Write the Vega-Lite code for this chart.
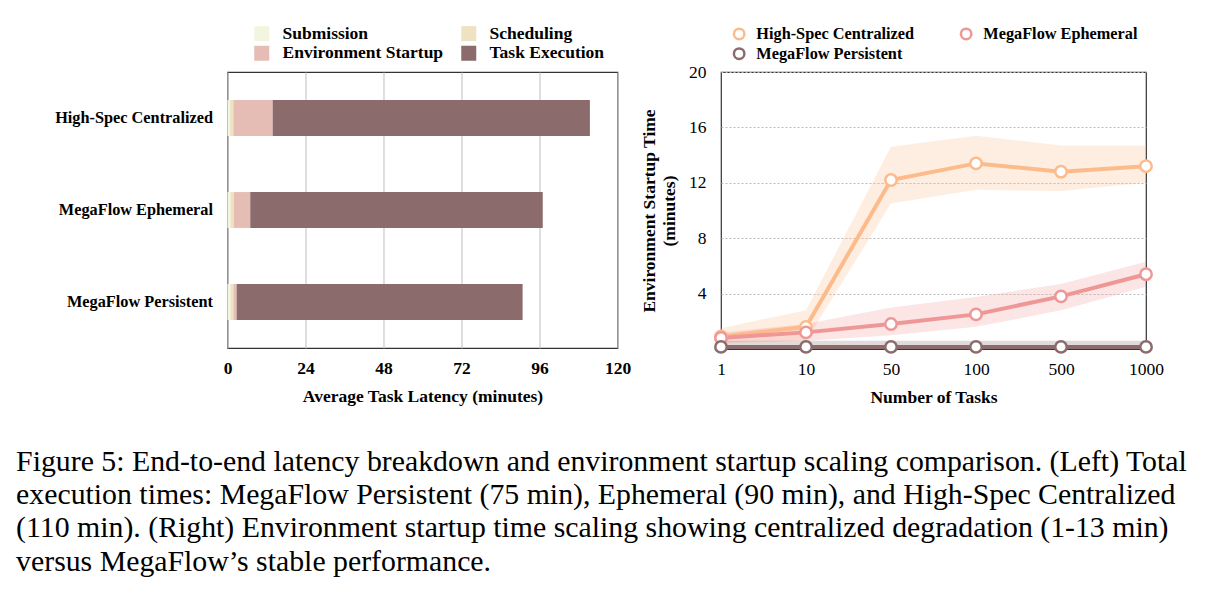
{
  "$schema": "https://vega.github.io/schema/vega-lite/v6.json",
  "autosize": {"type": "none"},
  "padding": {"left": 227.5, "top": 72, "right": 991.5, "bottom": 522},
  "background": "white",
  "bounds": "flush",
  "spacing": 103.5,
  "resolve": {
    "scale": {"color": "independent"},
    "legend": {"color": "independent"}
  },
  "title": {
    "text": [
      "Figure 5: End-to-end latency breakdown and environment startup scaling comparison. (Left) Total",
      "execution times: MegaFlow Persistent (75 min), Ephemeral (90 min), and High-Spec Centralized",
      "(110 min). (Right) Environment startup time scaling showing centralized degradation (1-13 min)",
      "versus MegaFlow’s stable performance."
    ],
    "orient": "bottom",
    "anchor": "start",
    "frame": "bounds",
    "font": "Liberation Serif",
    "fontSize": 29.8,
    "fontWeight": "normal",
    "color": "#000000",
    "lineHeight": 33.4,
    "offset": 40,
    "dx": -38
  },
  "config": {
    "view": {"stroke": "#333333", "strokeWidth": 1.2},
    "font": "Liberation Serif",
    "axis": {
      "domain": false,
      "ticks": false,
      "labelFlush": false,
      "labelFont": "Liberation Serif",
      "titleFont": "Liberation Serif",
      "labelColor": "#000000",
      "titleColor": "#000000",
      "titleFontWeight": "bold",
      "titleFontSize": 17.5
    },
    "legend": {
      "labelFont": "Liberation Serif",
      "labelFontWeight": "bold",
      "labelFontSize": 17.5,
      "labelColor": "#000000",
      "labelLimit": 400
    }
  },
  "hconcat": [
    {
      "width": 390,
      "height": 276,
      "data": {
        "values": [
          {"system": "High-Spec Centralized", "stage": "Submission", "step": 1, "minutes": 0.8},
          {"system": "High-Spec Centralized", "stage": "Scheduling", "step": 2, "minutes": 1.0},
          {"system": "High-Spec Centralized", "stage": "Environment Startup", "step": 3, "minutes": 12.1},
          {"system": "High-Spec Centralized", "stage": "Task Execution", "step": 4, "minutes": 97.6},
          {"system": "MegaFlow Ephemeral", "stage": "Submission", "step": 1, "minutes": 0.9},
          {"system": "MegaFlow Ephemeral", "stage": "Scheduling", "step": 2, "minutes": 1.0},
          {"system": "MegaFlow Ephemeral", "stage": "Environment Startup", "step": 3, "minutes": 5.1},
          {"system": "MegaFlow Ephemeral", "stage": "Task Execution", "step": 4, "minutes": 90.0},
          {"system": "MegaFlow Persistent", "stage": "Submission", "step": 1, "minutes": 0.9},
          {"system": "MegaFlow Persistent", "stage": "Scheduling", "step": 2, "minutes": 0.9},
          {"system": "MegaFlow Persistent", "stage": "Environment Startup", "step": 3, "minutes": 1.0},
          {"system": "MegaFlow Persistent", "stage": "Task Execution", "step": 4, "minutes": 88.0}
        ]
      },
      "mark": {"type": "bar"},
      "encoding": {
        "y": {
          "field": "system",
          "type": "nominal",
          "sort": ["High-Spec Centralized", "MegaFlow Ephemeral", "MegaFlow Persistent"],
          "scale": {"paddingInner": 0.61, "paddingOuter": 0.305},
          "axis": {
            "title": null,
            "labelFontWeight": "bold",
            "labelFontSize": 16.3,
            "labelPadding": 15,
            "grid": false
          }
        },
        "x": {
          "field": "minutes",
          "type": "quantitative",
          "stack": "zero",
          "scale": {"domain": [0, 120], "nice": false},
          "axis": {
            "title": "Average Task Latency (minutes)",
            "values": [0, 24, 48, 72, 96, 120],
            "labelFontWeight": "bold",
            "labelFontSize": 17.5,
            "labelPadding": 11,
            "titlePadding": 11,
            "grid": true,
            "gridColor": "#c4c4c4",
            "gridWidth": 1.1
          }
        },
        "order": {"field": "step", "type": "quantitative"},
        "color": {
          "field": "stage",
          "type": "nominal",
          "scale": {
            "domain": ["Submission", "Scheduling", "Environment Startup", "Task Execution"],
            "range": ["#f3f6de", "#eee2c3", "#e5bdb4", "#8b6b6b"]
          },
          "legend": {
            "title": null,
            "orient": "none",
            "direction": "horizontal",
            "legendX": 25.5,
            "legendY": -47.5,
            "columns": 2,
            "columnPadding": 16,
            "rowPadding": 1,
            "symbolType": "square",
            "symbolSize": 225,
            "symbolStrokeWidth": 0,
            "labelOffset": 12
          }
        }
      }
    },
    {
      "width": 425,
      "height": 277,
      "resolve": {"legend": {"color": "independent"}},
      "data": {
        "values": [
          {"tasks": "1", "series": "High-Spec Centralized", "value": 0.9, "lo": 0.4, "hi": 1.5},
          {"tasks": "10", "series": "High-Spec Centralized", "value": 1.6, "lo": 0.6, "hi": 2.8},
          {"tasks": "50", "series": "High-Spec Centralized", "value": 12.2, "lo": 10.5, "hi": 14.6},
          {"tasks": "100", "series": "High-Spec Centralized", "value": 13.4, "lo": 11.5, "hi": 15.4},
          {"tasks": "500", "series": "High-Spec Centralized", "value": 12.8, "lo": 11.4, "hi": 14.7},
          {"tasks": "1000", "series": "High-Spec Centralized", "value": 13.2, "lo": 12.0, "hi": 14.7},
          {"tasks": "1", "series": "MegaFlow Ephemeral", "value": 0.8, "lo": 0.5, "hi": 1.2},
          {"tasks": "10", "series": "MegaFlow Ephemeral", "value": 1.2, "lo": 0.6, "hi": 1.8},
          {"tasks": "50", "series": "MegaFlow Ephemeral", "value": 1.8, "lo": 1.0, "hi": 3.0},
          {"tasks": "100", "series": "MegaFlow Ephemeral", "value": 2.5, "lo": 1.6, "hi": 3.75},
          {"tasks": "500", "series": "MegaFlow Ephemeral", "value": 3.8, "lo": 2.8, "hi": 4.7},
          {"tasks": "1000", "series": "MegaFlow Ephemeral", "value": 5.4, "lo": 4.5, "hi": 6.3},
          {"tasks": "1", "series": "MegaFlow Persistent", "value": 0.15, "lo": 0.0, "hi": 0.6},
          {"tasks": "10", "series": "MegaFlow Persistent", "value": 0.15, "lo": 0.0, "hi": 0.6},
          {"tasks": "50", "series": "MegaFlow Persistent", "value": 0.15, "lo": 0.0, "hi": 0.6},
          {"tasks": "100", "series": "MegaFlow Persistent", "value": 0.15, "lo": 0.0, "hi": 0.6},
          {"tasks": "500", "series": "MegaFlow Persistent", "value": 0.15, "lo": 0.0, "hi": 0.6},
          {"tasks": "1000", "series": "MegaFlow Persistent", "value": 0.15, "lo": 0.0, "hi": 0.6}
        ]
      },
      "encoding": {
        "x": {
          "field": "tasks",
          "type": "ordinal",
          "sort": ["1", "10", "50", "100", "500", "1000"],
          "scale": {"type": "point", "padding": 0},
          "axis": {
            "title": "Number of Tasks",
            "labelAngle": 0,
            "labelFontSize": 17.5,
            "labelFontWeight": "normal",
            "labelPadding": 11,
            "titlePadding": 11,
            "grid": false
          }
        }
      },
      "layer": [
        {
          "mark": {"type": "area", "opacity": 0.25},
          "encoding": {
            "y": {
              "field": "lo",
              "type": "quantitative",
              "scale": {"domain": [0, 20], "nice": false},
              "axis": {
                "title": ["Environment Startup Time", "(minutes)"],
                "values": [4, 8, 12, 16, 20],
                "labelFontSize": 17.5,
                "labelFontWeight": "normal",
                "labelPadding": 15,
                "titlePadding": 10,
                "titleLineHeight": 20,
                "grid": true,
                "gridDash": [2, 2],
                "gridColor": "#bbbbbb",
                "gridWidth": 1
              }
            },
            "y2": {"field": "hi"},
            "color": {
              "field": "series",
              "type": "nominal",
              "scale": {
                "domain": ["High-Spec Centralized", "MegaFlow Ephemeral", "MegaFlow Persistent"],
                "range": ["#fdbb8c", "#ef9797", "#8b6b6b"]
              },
              "legend": null
            }
          }
        },
        {
          "mark": {"type": "line", "strokeWidth": 4},
          "encoding": {
            "y": {"field": "value", "type": "quantitative"},
            "color": {"field": "series", "type": "nominal", "legend": null}
          }
        },
        {
          "mark": {"type": "point", "filled": false, "fill": "white", "strokeWidth": 2.5, "size": 130, "opacity": 1},
          "encoding": {
            "y": {"field": "value", "type": "quantitative"},
            "color": {
              "field": "series",
              "type": "nominal",
              "legend": {
                "title": null,
                "orient": "none",
                "direction": "horizontal",
                "legendX": 10,
                "legendY": -46.5,
                "columns": 2,
                "columnPadding": 40,
                "rowPadding": -2,
                "labelFontSize": 16.3,
                "symbolType": "circle",
                "symbolSize": 110,
                "symbolStrokeWidth": 2.5,
                "symbolFillColor": "white",
                "symbolOpacity": 1,
                "labelOffset": 9
              }
            }
          }
        }
      ]
    }
  ]
}
